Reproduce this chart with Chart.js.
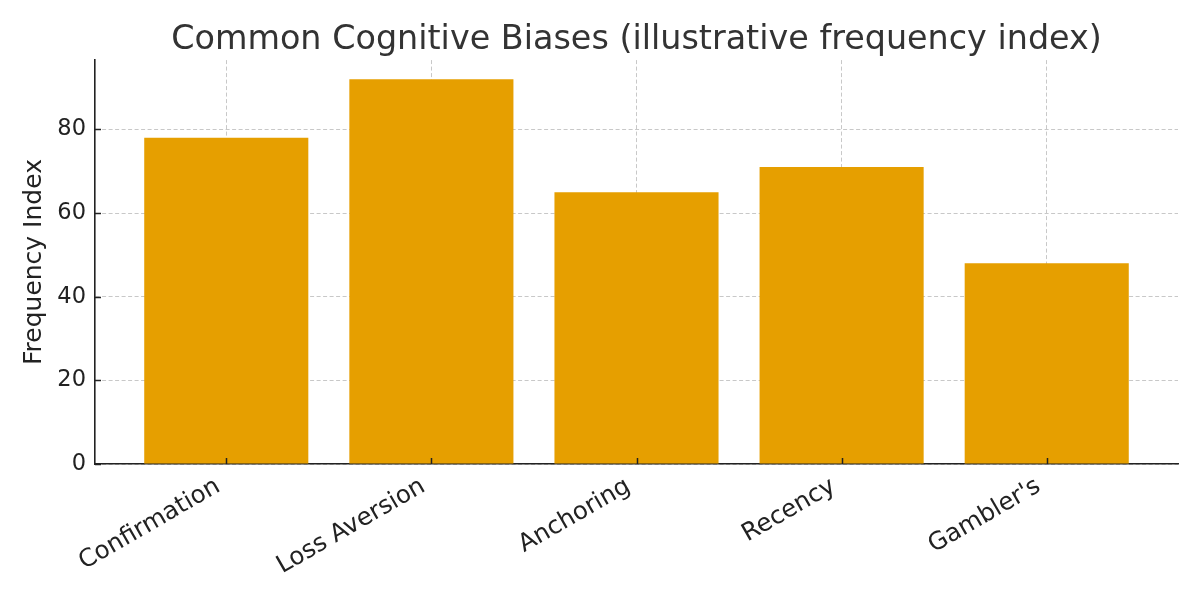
<!DOCTYPE html>
<html>
<head>
<meta charset="utf-8">
<script src="https://cdn.jsdelivr.net/npm/chart.js@4.4.1/dist/chart.umd.min.js"></script>
<style>
  html, body { margin: 0; padding: 0; background: #fff; }
  #wrap { width: 1200px; height: 600px; }
</style>
</head>
<body>
<div id="wrap"><canvas id="c" width="1200" height="600"></canvas></div>
<script>
const categories = ["Confirmation", "Loss Aversion", "Anchoring", "Recency", "Gambler's"];
const frequencyValues = [78, 92, 65, 71, 48];
const yTickValues = [0, 20, 40, 60, 80];
const chartTitle = "Common Cognitive Biases (illustrative frequency index)";
const yAxisTitle = "Frequency Index";

const FONT = "'DejaVu Sans', sans-serif";

const inwardTicks = {
  id: 'inwardTicks',
  afterDraw(chart) {
    const ctx = chart.ctx;
    const area = chart.chartArea;
    const xs = chart.scales.x, ys = chart.scales.y;
    ctx.save();
    ctx.strokeStyle = '#222';
    ctx.lineWidth = 1.5;
    ctx.beginPath();
    xs.ticks.forEach(t => {
      const px = Math.round(xs.getPixelForValue(t.value)) + 0.5;
      ctx.moveTo(px, area.bottom);
      ctx.lineTo(px, area.bottom - 6);
    });
    ys.ticks.forEach(t => {
      const py = Math.round(ys.getPixelForValue(t.value)) + 0.5;
      ctx.moveTo(area.left, py);
      ctx.lineTo(area.left + 6, py);
    });
    ctx.stroke();
    ctx.restore();
  }
};

new Chart(document.getElementById('c'), {
  type: 'bar',
  data: {
    datasets: [{
      data: categories.map((c, i) => ({ x: i, y: frequencyValues[i] })),
      backgroundColor: '#E69F00',
      borderWidth: 0,
      barPercentage: 0.8,
      categoryPercentage: 1.0
    }]
  },
  options: {
    responsive: false,
    animation: false,
    devicePixelRatio: 1,
    layout: { padding: { left: 0, right: 22, top: 0, bottom: 0 } },
    plugins: {
      legend: { display: false },
      tooltip: { enabled: false },
      title: {
        display: true,
        fullSize: false,
        text: chartTitle,
        color: '#333333',
        font: { family: FONT, size: 33.4, weight: 'normal', lineHeight: 1.2 },
        padding: { top: 20, bottom: 0 }
      }
    },
    scales: {
      x: {
        type: 'linear',
        min: -0.64,
        max: 4.64,
        offset: false,
        z: 1,
        afterBuildTicks: s => { s.ticks = categories.map((c, i) => ({ value: i })); },
        afterFit: s => { s.height = 136; },
        ticks: {
          autoSkip: false,
          minRotation: 30,
          maxRotation: 30,
          padding: 8,
          labelOffset: -8,
          color: '#222',
          font: { family: FONT, size: 24.5 },
          callback: v => categories[v]
        },
        grid: {
          display: true,
          offset: false,
          drawTicks: false,
          color: '#c8c8c8',
          lineWidth: 1
        },
        border: { display: true, color: '#222', width: 1.6, dash: [4, 2.5] }
      },
      y: {
        type: 'linear',
        min: 0,
        max: 96.6,
        z: 1,
        afterBuildTicks: s => { s.ticks = yTickValues.map(v => ({ value: v })); },
        afterFit: s => { s.width = 95; },
        ticks: {
          padding: 9,
          color: '#222',
          font: { family: FONT, size: 22.5 },
          callback: v => String(v)
        },
        grid: {
          display: true,
          drawTicks: false,
          color: '#c8c8c8',
          lineWidth: 1
        },
        border: { display: true, color: '#222', width: 1.6, dash: [4, 2.5] },
        title: {
          display: true,
          text: yAxisTitle,
          color: '#222',
          font: { family: FONT, size: 25 },
          padding: { top: 19.5, bottom: 0 }
        }
      }
    }
  },
  plugins: [inwardTicks]
});
</script>
</body>
</html>
